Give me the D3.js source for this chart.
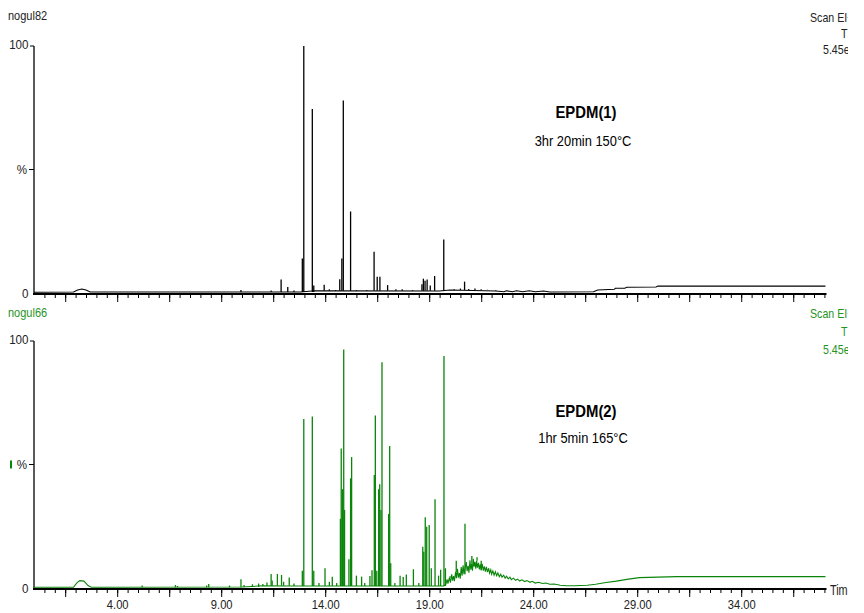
<!DOCTYPE html>
<html>
<head>
<meta charset="utf-8">
<script src="https://cdn.jsdelivr.net/npm/d3@7"></script>
<style>
body { margin: 0; background: #fff; }
text { font-family: "Liberation Sans", Arial, sans-serif; }
</style>
</head>
<body>
<svg id="chart" width="864" height="613"></svg>
<script>
// retention time labels (min) and intensity labels
var timeLabels = ["4.00", "9.00", "14.00", "19.00", "24.00", "29.00", "34.00"];
var intensityLabels = ["100", "%", "0"];

// run 1 (black trace)
var topHeader = ["nogul82", "Scan EI+", "TIC", "5.45e8"];
var topTitle = ["EPDM(1)", "3hr 20min 150°C"];
var topBase = [[0, 0.3], [1.9, 0.4], [2.1, 1.2], [2.3, 1.6], [2.5, 1.2], [2.7, 0.4], [12.8, 0.4], [13.5, 0.9],
    [19.5, 0.8], [20.0, 1.2], [22.2, 0.8], [22.6, 0.5], [22.7, 0.9], [23.0, 0.5], [23.2, 0.9], [23.5, 0.5],
    [23.8, 0.9], [24.1, 0.5], [24.5, 0.8], [24.8, 0.4], [26.9, 0.5], [27.1, 1.2], [27.9, 1.5], [27.95, 1.9],
    [28.4, 1.9], [28.5, 2.3], [29.9, 2.4], [30.0, 2.8], [38.05, 2.8]];
var topPeaks = [[9.95, 1.2], [11.4, 1.0], [11.88, 5.5], [12.2, 2.4], [12.5, 1.0], [12.9, 14], [12.97, 100],
    [13.38, 74.5], [13.45, 3], [13.95, 3.3], [14.2, 1.5], [14.5, 1.2], [14.7, 5.6], [14.8, 14], [14.87, 77.9],
    [15.22, 33], [15.5, 1.2], [16.0, 1.2], [16.35, 16.7], [16.5, 6.6], [16.63, 6.6], [17.0, 3.2], [17.4, 1.5],
    [17.7, 1.5], [18.2, 1.2], [18.65, 3.5], [18.72, 5.8], [18.8, 5.0], [18.9, 5.5], [19.05, 3], [19.26, 6.9],
    [19.7, 21.7], [20.2, 1.5], [20.5, 1.8], [20.7, 4.6], [20.9, 1.6], [21.2, 1.8], [21.5, 1.5], [21.8, 1.3],
    [22.2, 1.0]];

// run 2 (green trace)
var botHeader = ["nogul66", "Scan EI+", "TIC", "5.45e8"];
var botTitle = ["EPDM(2)", "1hr 5min 165°C"];
var botBase = [[0, 0.3], [1.9, 0.3], [2.05, 2.0], [2.2, 3.0], [2.4, 2.8], [2.6, 1.0], [2.75, 0.3], [10.0, 0.4],
    [11.0, 0.9], [12.5, 0.8], [19.7, 0.8], [19.8, 1.5], [19.86, 3.5], [19.9, 1.8], [19.97, 4.2], [20.02, 2.2],
    [20.08, 5.5], [20.12, 3.0], [20.17, 4.8], [20.21, 2.8], [20.27, 6.5], [20.31, 4.0], [20.36, 7.8],
    [20.4, 4.2], [20.45, 6.0], [20.49, 3.8], [20.54, 8.5], [20.58, 5.0], [20.63, 9.2], [20.67, 5.6],
    [20.78, 10.5], [20.82, 6.8], [20.87, 9.0], [20.91, 6.2], [20.96, 11.2], [21.0, 7.4], [21.04, 9.8],
    [21.08, 7.0], [21.12, 11.8], [21.16, 8.6], [21.2, 10.6], [21.24, 7.8], [21.28, 11.0], [21.32, 8.2],
    [21.37, 10.2], [21.41, 7.5], [21.46, 9.6], [21.5, 7.2], [21.55, 9.8], [21.6, 7.0], [21.65, 8.8],
    [21.7, 6.6], [21.75, 8.6], [21.8, 6.4], [21.86, 8.0], [21.9, 6.0], [21.96, 7.4], [22.0, 5.6],
    [22.06, 6.9], [22.12, 5.2], [22.18, 6.6], [22.24, 5.0], [22.3, 6.1], [22.37, 4.6], [22.44, 5.6],
    [22.5, 4.4], [22.58, 5.2], [22.65, 4.0], [22.72, 4.8], [22.8, 3.7], [22.88, 4.4], [22.95, 3.4],
    [23.05, 4.0], [23.15, 3.1], [23.25, 3.6], [23.35, 2.8], [23.45, 3.3], [23.6, 2.6], [23.7, 3.0],
    [23.85, 2.3], [23.95, 2.7], [24.1, 2.0], [24.25, 2.3], [24.45, 1.8], [24.6, 2.0], [24.8, 1.5],
    [25.0, 1.6], [25.3, 1.1], [25.6, 0.9], [26.0, 0.9], [26.6, 1.1], [27.0, 1.5], [27.5, 2.2], [28.0, 2.8],
    [28.5, 3.5], [29.1, 4.2], [30.9, 4.6], [38.05, 4.6]];
var botPeaks = [[5.2, 1.0], [6.8, 1.2], [6.9, 0.8], [8.3, 1.0], [8.4, 1.6], [9.4, 1.0], [9.95, 3.5], [10.1, 1.2],
    [10.5, 1.5], [10.8, 1.8], [11.0, 1.6], [11.2, 2.2], [11.4, 5.7], [11.45, 3], [11.7, 5.7], [11.9, 5.3],
    [12.0, 2.5], [12.27, 4.3], [12.5, 1.8], [12.9, 7], [12.97, 68.4], [13.38, 69.4], [13.45, 7], [13.7, 2],
    [13.99, 8], [14.2, 2.5], [14.34, 4.6], [14.55, 2], [14.73, 28], [14.77, 56.5], [14.83, 40], [14.89, 96.6],
    [14.93, 31.6], [15.14, 11.6], [15.22, 44.4], [15.27, 53], [15.5, 5], [15.75, 4.6], [15.9, 2], [16.15, 4.9],
    [16.25, 7.2], [16.36, 45.7], [16.41, 69.8], [16.48, 7], [16.57, 40], [16.62, 42], [16.68, 31.6],
    [16.73, 91.4], [17.05, 30], [17.1, 57.5], [17.15, 10], [17.35, 2], [17.6, 5], [17.75, 4.5], [17.9, 5.5],
    [18.24, 7.6], [18.5, 2], [18.69, 16.7], [18.74, 14.7], [18.81, 28.6], [18.88, 24.8], [19.0, 25.5],
    [19.1, 8], [19.28, 35.9], [19.45, 5], [19.55, 7.4], [19.71, 93.9], [19.78, 8], [20.0, 4.8], [20.3, 11],
    [20.72, 26], [21.05, 13], [21.3, 12.5], [21.5, 11]];

var svg = d3.select("#chart");
svg.append("defs").append("clipPath").attr("id", "clip")
    .append("rect").attr("x", 0).attr("y", 0).attr("width", 848).attr("height", 613);
var root = svg.append("g").attr("clip-path", "url(#clip)");

var x = d3.scaleLinear().domain([0, 38.1]).range([34, 826.5]);

// narrow text: Arial metrics squeezed horizontally
function label(g, px, py, str, size, sx, anchor) {
    return g.append("text")
        .attr("transform", "translate(" + px + "," + py + ") scale(" + sx + ",1)")
        .attr("font-size", size).attr("text-anchor", anchor || "start").text(str);
}

function baseAt(base, t) {
    var i = d3.bisector(function(d) { return d[0]; }).right(base, t) - 1;
    return base[Math.max(i, 0)][1];
}

function drawPanel(opts) {
    var y = d3.scaleLinear().domain([0, 100]).range([opts.y0, opts.y100]);
    var g = root.append("g");

    // header texts
    label(g, 8, opts.headY[0], opts.header[0], 12.5, 0.88).attr("fill", opts.headColor);
    label(g, 810, opts.headY[1], opts.header[1], 12.5, 0.85).attr("fill", opts.headColor);
    label(g, 841, opts.headY[2], opts.header[2], 12.5, 0.85).attr("fill", opts.headColor);
    label(g, 823, opts.headY[3], opts.header[3], 12.5, 0.85).attr("fill", opts.headColor);

    // titles
    label(g, 586, opts.titleY[0], opts.title[0], 16, 0.93, "middle").attr("font-weight", "bold");
    label(g, 583, opts.titleY[1], opts.title[1], 14, 0.92, "middle");

    // y axis
    g.append("line").attr("x1", 34).attr("x2", 34).attr("y1", y(100)).attr("y2", y(0))
        .attr("stroke", "#000").attr("stroke-width", 1.3);
    g.append("line").attr("x1", 30).attr("x2", 34).attr("y1", y(100)).attr("y2", y(100))
        .attr("stroke", "#000");
    g.append("line").attr("x1", 29).attr("x2", 34).attr("y1", y(50)).attr("y2", y(50))
        .attr("stroke", "#000");
    [100, 50, 0].forEach(function(v, k) {
        label(g, k == 1 ? 27 : 28.5, y(v) + (k == 0 ? 2.5 : 4.5), intensityLabels[k], 13.5, 0.86, "end")
            .attr("fill", "#222");
    });
    if (opts.marker) {
        g.append("rect").attr("x", 10).attr("y", y(50) - 4).attr("width", 2).attr("height", 8)
            .attr("fill", opts.color);
    }

    // x axis: minor, major ticks
    var ax = g.append("g").attr("transform", "translate(0," + (opts.y0 + 1) + ")");
    ax.append("g").call(d3.axisBottom(x).tickValues(d3.range(0.5, 38.1, 0.5)).tickSize(4).tickFormat(""));
    ax.append("g").call(d3.axisBottom(x).tickValues(d3.range(1.5, 38.1, 2.5)).tickSize(8).tickFormat(""));
    ax.selectAll(".domain").remove();
    ax.selectAll(".tick line").attr("stroke", "#000");
    ax.append("line").attr("x1", 33).attr("x2", 826.5).attr("y1", 0).attr("y2", 0)
        .attr("stroke", "#000").attr("stroke-width", 2);
    if (opts.labels) {
        var lab = ax.append("g").call(d3.axisBottom(x).tickValues(timeLabels.map(Number))
            .tickSize(0).tickPadding(11).tickFormat(function(d, i) { return timeLabels[i]; }));
        lab.select(".domain").remove();
        lab.selectAll("text").attr("font-size", 13).attr("fill", "#222")
            .style("font-family", "'Liberation Sans', Arial, sans-serif")
            .attr("transform", "scale(0.86,1)");
        label(ax, 830, 6, "Time", 15.5, 0.7).attr("fill", "#222");
    }

    // trace: baseline plus spikes
    var line = d3.line().x(function(d) { return x(d[0]); }).y(function(d) { return y(d[1]); });
    g.append("path").datum(opts.base).attr("d", line).attr("fill", "none")
        .attr("stroke", opts.color).attr("stroke-width", 1.1);
    g.selectAll(".peak").data(opts.peaks).enter().append("line")
        .attr("x1", function(d) { return x(d[0]); }).attr("x2", function(d) { return x(d[0]); })
        .attr("y1", function(d) { return y(baseAt(opts.base, d[0])); })
        .attr("y2", function(d) { return y(d[1]); })
        .attr("stroke", opts.color).attr("stroke-width", 1.3);
}

drawPanel({ header: topHeader, title: topTitle, base: topBase, peaks: topPeaks, color: "#000",
    headColor: "#222", headY: [20, 22, 38, 54], titleY: [118, 146], y0: 293, y100: 46,
    labels: false, marker: false });
drawPanel({ header: botHeader, title: botTitle, base: botBase, peaks: botPeaks, color: "#0a850a",
    headColor: "#1f931f", headY: [317, 318, 336, 354], titleY: [417, 443], y0: 588, y100: 341,
    labels: true, marker: true });
</script>
</body>
</html>
